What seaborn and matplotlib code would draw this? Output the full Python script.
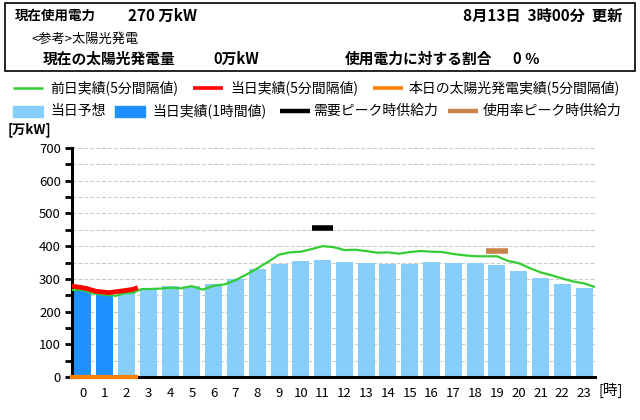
import pandas as pd
import matplotlib
matplotlib.use("Agg")
import matplotlib.pyplot as plt
from matplotlib.lines import Line2D
from matplotlib.patches import Rectangle
import seaborn as sns

# hourly bars
hours = list(range(24))
forecast = [266, 254, 261, 271, 278, 278, 284, 299, 329, 346, 355, 358,
            352, 348, 346, 346, 352, 348, 348, 342, 324, 303, 284, 272]
actual_hours = [0, 1]
actual = [266, 254]

# previous day, 5-minute values (read every ~30 min)
prev_x = [-0.5, 0.0, 0.38, 0.8, 1.5, 1.9, 2.35, 2.5, 2.75, 3.0, 3.5, 4.0, 4.5, 5.0, 5.5,
          6.0, 6.5, 7.0, 7.5, 8.0, 8.5, 9.0, 9.5, 10.0, 10.5, 11.0, 11.5,
          12.0, 12.5, 13.0, 13.5, 14.0, 14.5, 15.0, 15.5, 16.0, 16.5, 17.0,
          17.5, 18.0, 18.5, 19.0, 19.5, 20.0, 20.5, 21.0, 21.5, 22.0, 22.5,
          23.0, 23.5]
prev_y = [266, 266, 256, 253, 248, 256, 258, 264, 269, 269, 270, 273, 271, 278, 267,
          279, 283, 296, 313, 332, 352, 374, 381, 383, 391, 400, 397,
          388, 389, 385, 380, 381, 377, 382, 385, 383, 382, 376,
          372, 369, 369, 369, 355, 348, 333, 320, 311, 301, 292,
          286, 275]

# today, 5-minute values
today_x = [-0.5, 0.15, 0.6, 1.2, 1.68, 2.3, 2.42]
today_y = [278, 271, 262, 258, 262, 268, 271]

# solar output today
solar_x = [-0.5, 2.42]
solar_y = [0, 0]

peak_demand_hour, peak_demand_val = 11, 456
peak_rate_hour, peak_rate_val = 19, 385

GREEN, RED, ORANGE = "#32CD32", "#FF0000", "#FF8000"
LIGHT, BLUE, BROWN = "#87CEFA", "#1E90FF", "#C8834A"

plt.rcParams['font.family'] = ['Noto Sans CJK JP', 'DejaVu Sans']

df = pd.DataFrame({"hour": hours, "value": forecast, "kind": "当日予想"})
for h, v in zip(actual_hours, actual):
    df.loc[df["hour"] == h, ["value", "kind"]] = [v, "当日実績(1時間値)"]

fig = plt.figure(figsize=(6.4, 4.2), dpi=100)
ax = fig.add_axes([72 / 640, 1 - 377 / 420, 523 / 640, 229 / 420])

sns.barplot(data=df, x="hour", y="value", hue="kind", dodge=False, width=0.78,
            palette={"当日予想": LIGHT, "当日実績(1時間値)": BLUE},
            saturation=1, legend=False, ax=ax, zorder=2)
sns.lineplot(x=prev_x, y=prev_y, color=GREEN, linewidth=1.6, ax=ax, zorder=4)
sns.lineplot(x=today_x, y=today_y, color=RED, linewidth=3.4, ax=ax, zorder=5)
sns.lineplot(x=solar_x, y=solar_y, color=ORANGE, linewidth=3.0, ax=ax, zorder=6,
             clip_on=False)
ax.plot([peak_demand_hour - 0.5, peak_demand_hour + 0.5], [peak_demand_val] * 2,
        color="black", linewidth=4, solid_capstyle="butt", zorder=5)
ax.plot([peak_rate_hour - 0.5, peak_rate_hour + 0.5], [peak_rate_val] * 2,
        color=BROWN, linewidth=4, solid_capstyle="butt", zorder=5)

ax.set_xlim(-0.5, 23.5)
ax.set_ylim(0, 700)
ax.set_yticks(range(0, 701, 100))
ax.set_yticks(range(50, 701, 100), minor=True)
ax.set_xticks(hours)
ax.set_xticklabels([str(h) for h in hours])
ax.grid(axis="y", which="both", color="#cccccc", linestyle="--", linewidth=0.8, zorder=0)
ax.set_axisbelow(True)
ax.tick_params(axis="y", which="both", direction="out", length=5, width=2, labelsize=9.5, pad=3)
ax.tick_params(axis="x", length=0, labelsize=9.5, pad=7)
ax.set_xlabel("")
ax.set_ylabel("")
for s in ["top", "right"]:
    ax.spines[s].set_visible(False)
ax.spines["left"].set_linewidth(2.2)
ax.spines["bottom"].set_linewidth(2.2)

fig.text(8 / 640, 1 - 130 / 420, "[万kW]", fontsize=9.5, fontweight="bold", va="center")
fig.text(598 / 640, 1 - 390 / 420, "[時]", fontsize=10.5, va="center")

# header box
fig.patches.append(Rectangle((5 / 640, 1 - 71 / 420), 630 / 640, 68 / 420,
                             transform=fig.transFigure, fill=False, ec="black", lw=1.2))
fig.text(15 / 640, 1 - 16 / 420, "現在使用電力", fontsize=9.7, fontweight="bold", va="center")
fig.text(128 / 640, 1 - 16 / 420, "270 万kW", fontsize=11, fontweight="bold", va="center")
fig.text(622 / 640, 1 - 16 / 420, "8月13日  3時00分  更新", fontsize=11, fontweight="bold",
         va="center", ha="right")
fig.text(31 / 640, 1 - 39 / 420, "<参考>太陽光発電", fontsize=9.5, va="center")
fig.text(43 / 640, 1 - 59 / 420, "現在の太陽光発電量", fontsize=10.6, fontweight="bold", va="center")
fig.text(213 / 640, 1 - 59 / 420, "0万kW", fontsize=10.6, fontweight="bold", va="center")
fig.text(345 / 640, 1 - 59 / 420, "使用電力に対する割合", fontsize=10.6, fontweight="bold", va="center")
fig.text(513 / 640, 1 - 59 / 420, "0 ％", fontsize=10.6, fontweight="bold", va="center")

# legend, drawn item by item
line_items = [
    (12.7, 88, GREEN, 1.8, "前日実績(5分間隔値)", 50),
    (192.7, 88, RED, 2.6, "当日実績(5分間隔値)", 230),
    (372.7, 88, ORANGE, 2.6, "本日の太陽光発電実績(5分間隔値)", 409),
    (280, 111, "black", 3.2, "需要ピーク時供給力", 313),
    (448, 111, BROWN, 3.2, "使用率ピーク時供給力", 483),
]
for x0, y, color, lw, label, tx in line_items:
    fig.add_artist(Line2D([x0 / 640, (x0 + 30) / 640], [1 - y / 420] * 2,
                          transform=fig.transFigure, color=color, lw=lw,
                          solid_capstyle="butt"))
    fig.text(tx / 640, 1 - y / 420, label, fontsize=10, va="center")
rect_items = [(12.7, LIGHT, "当日予想", 50), (115, BLUE, "当日実績(1時間値)", 152)]
for x0, color, label, tx in rect_items:
    fig.patches.append(Rectangle((x0 / 640, 1 - 117 / 420), 30 / 640, 11 / 420,
                                 transform=fig.transFigure, color=color))
    fig.text(tx / 640, 1 - 111 / 420, label, fontsize=10, va="center")

fig.savefig("out.png", dpi=100, facecolor="white")
